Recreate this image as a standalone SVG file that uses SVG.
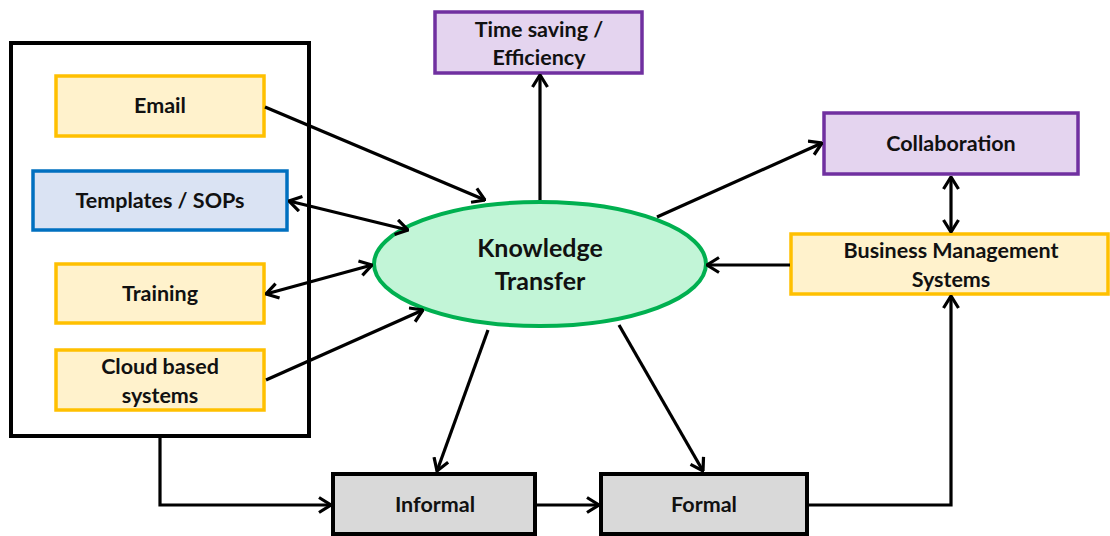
<svg xmlns="http://www.w3.org/2000/svg" width="1110" height="536" viewBox="0 0 1110 536">
  <style>
    text { font-family: Lato, "Open Sans", "Liberation Sans", sans-serif; font-weight: bold; font-size: 21.5px; fill: #111; text-anchor: middle; }
    .yellow { fill: #FFF2CC; stroke: #FFC000; stroke-width: 3.5; }
    .blue { fill: #DAE3F3; stroke: #0070C0; stroke-width: 3.5; }
    .purple { fill: #E4D4EF; stroke: #7030A0; stroke-width: 3.5; }
    .gray { fill: #D9D9D9; stroke: #000; stroke-width: 4; }
    .frame { fill: #fff; stroke: #000; stroke-width: 4; }
    .conn { fill: none; stroke: #000; stroke-width: 3.2; }
    .big { font-size: 25px; }
  </style>
  <defs>
    <marker id="ah" viewBox="0 0 14 18" refX="13" refY="9" markerWidth="14" markerHeight="18" orient="auto-start-reverse" markerUnits="userSpaceOnUse">
      <path d="M1,1.5 L13,9 L1,16.5" fill="none" stroke="#000" stroke-width="3.2"/>
    </marker>
  </defs>

  <rect width="1110" height="536" fill="#fff"/>

  <!-- container for the tool boxes -->
  <g id="tools">
    <rect class="frame" x="11" y="43" width="298" height="393"/>
  </g>

  <g id="email">
    <rect class="yellow" x="56" y="76" width="208" height="60"/>
    <text x="160" y="113">Email</text>
  </g>
  <g id="templates">
    <rect class="blue" x="33" y="171" width="254" height="59"/>
    <text x="160" y="208">Templates / SOPs</text>
  </g>
  <g id="training">
    <rect class="yellow" x="56" y="264" width="208" height="59"/>
    <text x="160" y="301">Training</text>
  </g>
  <g id="cloud">
    <rect class="yellow" x="56" y="350" width="208" height="60"/>
    <text x="160" y="374">Cloud based</text>
    <text x="160" y="403">systems</text>
  </g>

  <g id="knowledge">
    <ellipse cx="540" cy="264" rx="166" ry="62" fill="#C2F5D7" stroke="#00B050" stroke-width="4"/>
    <text class="big" x="540" y="257">Knowledge</text>
    <text class="big" x="540" y="290">Transfer</text>
  </g>

  <g id="time">
    <rect class="purple" x="435" y="12" width="207" height="61"/>
    <text x="539" y="37">Time saving /</text>
    <text x="539" y="65">Efficiency</text>
  </g>

  <g id="collaboration">
    <rect class="purple" x="824" y="113" width="254" height="61"/>
    <text x="951" y="151">Collaboration</text>
  </g>

  <g id="bms">
    <rect class="yellow" x="791" y="234" width="317" height="60"/>
    <text x="951" y="258">Business Management</text>
    <text x="951" y="287">Systems</text>
  </g>

  <g id="informal">
    <rect class="gray" x="333" y="474" width="202" height="60"/>
    <text x="435" y="512">Informal</text>
  </g>

  <g id="formal">
    <rect class="gray" x="601" y="474" width="206" height="60"/>
    <text x="704" y="512">Formal</text>
  </g>

  <g id="connectors">
    <line class="conn" x1="265" y1="107" x2="485" y2="200" marker-end="url(#ah)"/>
    <line class="conn" x1="289" y1="201" x2="408" y2="230" marker-start="url(#ah)" marker-end="url(#ah)"/>
    <line class="conn" x1="266" y1="294" x2="372" y2="265" marker-start="url(#ah)" marker-end="url(#ah)"/>
    <line class="conn" x1="266" y1="380" x2="423" y2="310" marker-end="url(#ah)"/>
    <line class="conn" x1="540" y1="200" x2="540" y2="75" marker-end="url(#ah)"/>
    <line class="conn" x1="657" y1="217" x2="822" y2="143" marker-end="url(#ah)"/>
    <line class="conn" x1="951" y1="177" x2="951" y2="232" marker-start="url(#ah)" marker-end="url(#ah)"/>
    <line class="conn" x1="790" y1="265" x2="707" y2="265" marker-end="url(#ah)"/>
    <line class="conn" x1="488" y1="330" x2="437" y2="471" marker-end="url(#ah)"/>
    <line class="conn" x1="619" y1="325" x2="703" y2="471" marker-end="url(#ah)"/>
    <polyline class="conn" points="160,437 160,505 331,505" marker-end="url(#ah)"/>
    <line class="conn" x1="537" y1="505" x2="599" y2="505" marker-end="url(#ah)"/>
    <polyline class="conn" points="809,505 951,505 951,296" marker-end="url(#ah)"/>
  </g>
</svg>
